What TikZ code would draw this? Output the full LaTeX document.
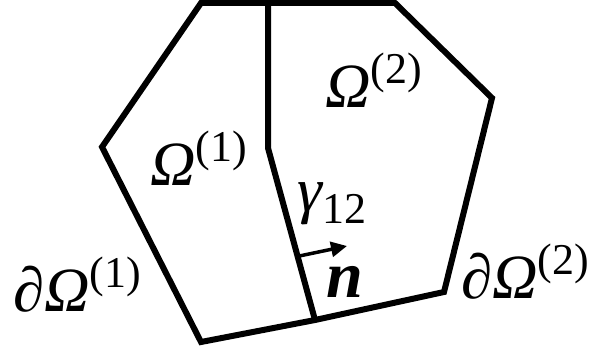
\documentclass[tikz,border=0pt]{standalone}
\usepackage{fontspec}
\setmainfont{Liberation Serif}
\usetikzlibrary{arrows.meta, calc}

\newcommand{\supidx}[1]{\raisebox{24pt}{\fontsize{44}{47}\selectfont #1}}
\newcommand{\subidx}[1]{\raisebox{-12pt}{\fontsize{44}{47}\selectfont #1}}

\begin{document}
\begin{tikzpicture}[x=1pt, y=-1pt,
    edge/.style={line width=6pt, line join=miter},
    lbl/.style={anchor=base west, inner sep=0pt, font=\fontsize{63}{68}\selectfont}]
  \useasboundingbox (0,0) rectangle (601,353);

  % outer boundary
  \coordinate (tl) at (201,3);
  \coordinate (tm) at (268,3);
  \coordinate (tr) at (395,3);
  \coordinate (rt) at (492,98);
  \coordinate (br) at (444,292);
  \coordinate (bm) at (315,320);
  \coordinate (bl) at (201,342);
  \coordinate (lt) at (102,147);
  % interface
  \coordinate (bend) at (268,148);
  \coordinate (nfoot) at ($(bend)!0.63!(bm)$);
  \coordinate (ntip) at (347,246);

  \draw[edge] (tl) -- (tr) -- (rt) -- (br) -- (bm) -- (bl) -- (lt) -- cycle;
  \draw[edge] (tm) -- (bend) -- (bm);
  \draw[line width=3.5pt, -{Triangle[length=16pt, width=15pt]}] (nfoot) -- (ntip);

  \node[lbl] (om1) at (150,185) {{\itshape Ω}\supidx{(1)}};
  \node[lbl] (om2) at (325,107) {{\itshape Ω}\supidx{(2)}};
  \node[lbl] (gam) at (297,211) {{\itshape γ}\subidx{12}};
  \node[lbl, font=\fontsize{66}{70}\selectfont\bfseries\itshape] (nvec) at (326,297) {n};
  \node[lbl] (bd1) at (13,311) {{\itshape ∂Ω}\supidx{(1)}};
  \node[lbl] (bd2) at (461,298) {{\itshape ∂Ω}\supidx{(2)}};
\end{tikzpicture}
\end{document}
